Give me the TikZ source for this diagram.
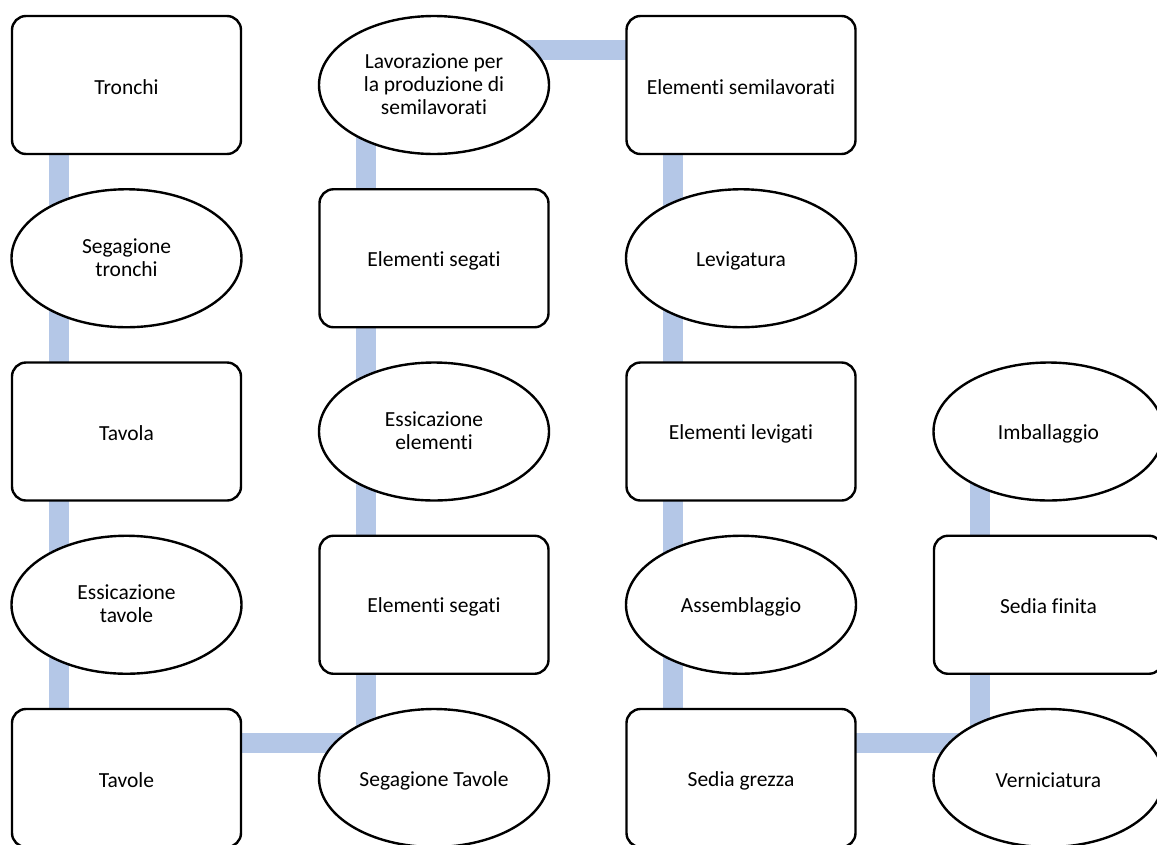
\documentclass[tikz,border=0pt]{standalone}
\usepackage{fontspec}
\setmainfont{Carlito}[Ligatures=NoCommon]
\usetikzlibrary{shapes.geometric,backgrounds}
\definecolor{connblue}{RGB}{180,199,231}
\tikzset{
  stagetext/.style={align=center, font=\fontsize{21.5}{23}\selectfont,
    execute at begin node={\rule{0pt}{20pt}},
    execute at end node={\rule[-2pt]{0pt}{2pt}}},
  stagebox/.style={stagetext, draw=black, line width=2.4pt, fill=white, rounded corners=14pt,
    minimum width=229pt, minimum height=138pt, inner sep=2pt},
  stageell/.style={stagetext, draw=black, line width=2.4pt, fill=white, ellipse,
    minimum width=230pt, minimum height=138pt, inner sep=0pt},
  conn/.style={draw=connblue, line width=20pt, line join=miter}
}
\begin{document}
\begin{tikzpicture}[x=1pt,y=-1pt]
\path[use as bounding box, clip] (0,0) rectangle (1157,844);
% column 1
\node[stagebox] (tronchi) at (126.5,85) {Tronchi};
\node[stageell] (segtronchi) at (126.5,258.25) {Segagione\\tronchi};
\node[stagebox] (tavola) at (126.5,431.5) {Tavola};
\node[stageell] (esstavole) at (126.5,604.75) {Essicazione\\tavole};
\node[stagebox] (tavole) at (126.5,778) {Tavole};
% column 2
\node[stageell] (lavor) at (434,85) {Lavorazione per\\la produzione di\\semilavorati};
\node[stagebox] (segati1) at (434,258.25) {Elementi segati};
\node[stageell] (esselem) at (434,431.5) {Essicazione\\elementi};
\node[stagebox] (segati2) at (434,604.75) {Elementi segati};
\node[stageell] (segtavole) at (434,778) {Segagione Tavole};
% column 3
\node[stagebox] (semilav) at (741,85) {Elementi semilavorati};
\node[stageell] (levig) at (741,258.25) {Levigatura};
\node[stagebox] (levigati) at (741,431.5) {Elementi levigati};
\node[stageell] (assembl) at (741,604.75) {Assemblaggio};
\node[stagebox] (grezza) at (741,778) {Sedia grezza};
% column 4
\node[stageell] (imball) at (1048.5,431.5) {Imballaggio};
\node[stagebox] (finita) at (1048.5,604.75) {Sedia finita};
\node[stageell] (vernic) at (1048.5,778) {Verniciatura};
% connector behind the shapes
\begin{scope}[on background layer]
\fill[white] (0,0) rectangle (1157,844);
\draw[conn] ([xshift=-67.5pt]tronchi.center)
  -- ([xshift=-67.5pt,yshift=35pt]tavole.center)
  -- ([xshift=-68pt,yshift=35pt]segtavole.center)
  -- ([xshift=-68pt,yshift=35pt]lavor.center)
  -- ([xshift=-68.5pt,yshift=35pt]semilav.center)
  -- ([xshift=-68.5pt,yshift=35pt]grezza.center)
  -- ([xshift=-68.5pt,yshift=35pt]vernic.center)
  -- ([xshift=-68.5pt]imball.center);
\end{scope}
\end{tikzpicture}
\end{document}
